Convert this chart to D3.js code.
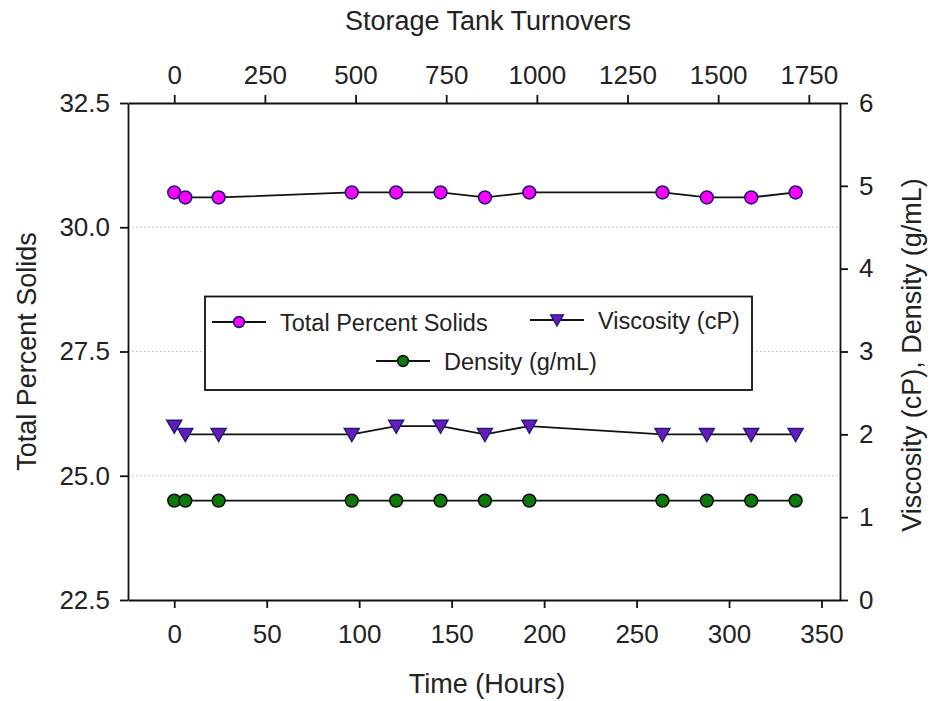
<!DOCTYPE html>
<html lang="en">
<head>
  <meta charset="UTF-8">
  <title>Storage Tank Turnovers</title>
  <style>
    body { margin: 0; background: #fff; }
    text { font-family: "Liberation Sans", Arial, sans-serif; fill: #222; }
  </style>
</head>
<body>
  <svg id="svg" width="934" height="701"></svg>
  <script src="https://cdn.jsdelivr.net/npm/d3@7"></script>
  <script>
    // data
    const hours = [0, 6, 24, 96, 120, 144, 168, 192, 264, 288, 312, 336]
    const solids = [30.7, 30.6, 30.6, 30.7, 30.7, 30.7, 30.6, 30.7, 30.7, 30.6, 30.6, 30.7]
    const viscosity = [2.1, 2.0, 2.0, 2.0, 2.1, 2.1, 2.0, 2.1, 2.0, 2.0, 2.0, 2.0]
    const density = [1.2, 1.2, 1.2, 1.2, 1.2, 1.2, 1.2, 1.2, 1.2, 1.2, 1.2, 1.2]
    const hourTicks = [0, 50, 100, 150, 200, 250, 300, 350]
    const turnoverTicks = [0, 250, 500, 750, 1000, 1250, 1500, 1750]
    const solidsTicks = [22.5, 25.0, 27.5, 30.0, 32.5]
    const rightTicks = [0, 1, 2, 3, 4, 5, 6]
    const turnoversPerHour = 5.1

    const svg = d3.select('#svg')
    const plotL = 128, plotR = 840, plotT = 103, plotB = 600

    const x = d3.scaleLinear().domain([-25, 360]).range([plotL, plotR])
    const xTop = d3.scaleLinear()
      .domain(x.domain().map(d => d * turnoversPerHour))
      .range([plotL, plotR])
    const yL = d3.scaleLinear().domain([22.5, 32.5]).range([plotB, plotT])
    const yR = d3.scaleLinear().domain([0, 6]).range([plotB, plotT])

    // dotted grid at left major ticks
    svg.append('g')
      .selectAll('line')
      .data(solidsTicks.slice(1, -1))
      .join('line')
      .attr('x1', plotL).attr('x2', plotR)
      .attr('y1', d => yL(d)).attr('y2', d => yL(d))
      .attr('stroke', '#bbb')
      .attr('stroke-width', 1.2)
      .attr('stroke-dasharray', '1.5,2.5')

    // axes
    const fs = '26px'
    function styleAxis(g) {
      g.select('.domain').attr('stroke', '#111').attr('stroke-width', 1.8)
      g.selectAll('.tick line').attr('stroke', '#111').attr('stroke-width', 1.8)
      g.selectAll('.tick text').style('font-size', fs)
        .style('font-family', '"Liberation Sans", Arial, sans-serif').attr('fill', '#222')
    }

    svg.append('g')
      .attr('transform', `translate(0,${plotB})`)
      .call(d3.axisBottom(x).tickValues(hourTicks).tickSize(8).tickSizeOuter(0).tickPadding(17))
      .call(styleAxis)

    svg.append('g')
      .attr('transform', `translate(0,${plotT})`)
      .call(d3.axisTop(xTop).tickValues(turnoverTicks).tickFormat(d3.format('d')).tickSize(8).tickSizeOuter(0).tickPadding(11))
      .call(styleAxis)

    svg.append('g')
      .attr('transform', `translate(${plotL},0)`)
      .call(d3.axisLeft(yL).tickValues(solidsTicks).tickFormat(d3.format('.1f')).tickSize(8).tickSizeOuter(0).tickPadding(10))
      .call(styleAxis)

    svg.append('g')
      .attr('transform', `translate(${plotR},0)`)
      .call(d3.axisRight(yR).tickValues(rightTicks).tickFormat(d3.format('d')).tickSize(8).tickSizeOuter(0).tickPadding(11))
      .call(styleAxis)

    // axis titles
    const tfs = '27px'
    svg.append('text').attr('x', 488).attr('y', 30)
      .attr('text-anchor', 'middle').style('font-size', tfs).text('Storage Tank Turnovers')
    svg.append('text').attr('x', 487).attr('y', 693)
      .attr('text-anchor', 'middle').style('font-size', tfs).text('Time (Hours)')
    svg.append('text')
      .attr('transform', `translate(36,${(plotT + plotB) / 2}) rotate(-90)`)
      .attr('text-anchor', 'middle').style('font-size', tfs).text('Total Percent Solids')
    svg.append('text')
      .attr('transform', `translate(921,355) rotate(-90)`)
      .attr('text-anchor', 'middle').style('font-size', tfs).text('Viscosity (cP), Density (g/mL)')

    // series
    const series = [
      { name: 'Total Percent Solids', values: solids, y: yL, shape: 'circle', fill: '#ff00ff', stroke: '#1a1a70' },
      { name: 'Viscosity (cP)', values: viscosity, y: yR, shape: 'triangle', fill: '#6a1bb5', stroke: '#1a1a80' },
      { name: 'Density (g/mL)', values: density, y: yR, shape: 'circle', fill: '#0b7a0b', stroke: '#111' }
    ]

    function drawMarker(g, s, r) {
      if (s.shape === 'circle') {
        g.append('circle').attr('r', r)
          .attr('fill', s.fill).attr('stroke', s.stroke).attr('stroke-width', 1.6)
      } else {
        const tri = d3.symbol().type(d3.symbolTriangle).size(r * r * 2.4)
        g.append('path').attr('d', tri).attr('transform', 'rotate(180) translate(0,1.5)')
          .attr('fill', s.fill).attr('stroke', s.stroke).attr('stroke-width', 1.4)
      }
    }

    series.forEach(s => {
      const pts = hours.map((h, i) => [h, s.values[i]])
      svg.append('path')
        .datum(pts)
        .attr('fill', 'none')
        .attr('stroke', '#111')
        .attr('stroke-width', 1.8)
        .attr('d', d3.line().x(d => x(d[0])).y(d => s.y(d[1])))
      svg.append('g')
        .selectAll('g')
        .data(pts)
        .join('g')
        .attr('transform', d => `translate(${x(d[0])},${s.y(d[1])})`)
        .each(function () { drawMarker(d3.select(this), s, 6.4) })
    })

    // legend
    const legend = svg.append('g')
    legend.append('rect')
      .attr('x', 205).attr('y', 296.5).attr('width', 547).attr('height', 93.5)
      .attr('fill', '#fff').attr('stroke', '#111').attr('stroke-width', 1.8)
    const legendPos = [[212, 322], [530, 320], [376, 361]]
    series.forEach((s, i) => {
      const [lx, ly] = legendPos[i]
      const g = legend.append('g').attr('transform', `translate(${lx},${ly})`)
      g.append('line').attr('x1', 0).attr('x2', 54).attr('stroke', '#111').attr('stroke-width', 1.8)
      const m = g.append('g').attr('transform', 'translate(27,0)')
      drawMarker(m, s, 5.4)
      g.append('text').attr('x', 68).attr('y', 8.5).style('font-size', '23.5px').text(s.name)
    })
  </script>
</body>
</html>
